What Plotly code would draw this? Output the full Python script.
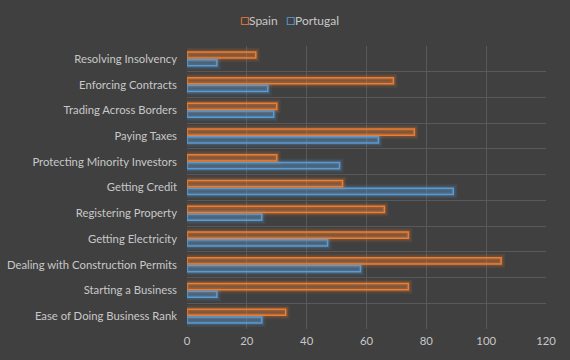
import plotly.graph_objects as go

categories = [
    "Ease of Doing Business Rank",
    "Starting a Business",
    "Dealing with Construction Permits",
    "Getting Electricity",
    "Registering Property",
    "Getting Credit",
    "Protecting Minority Investors",
    "Paying Taxes",
    "Trading Across Borders",
    "Enforcing Contracts",
    "Resolving Insolvency",
]
spain = [33, 74, 105, 74, 66, 52, 30, 76, 30, 69, 23]
portugal = [25, 10, 58, 47, 25, 89, 51, 64, 29, 27, 10]
x_ticks = [0, 20, 40, 60, 80, 100, 120]

FONT = "Lato, 'Open Sans', sans-serif"
TEXT = "#C8C8C8"
GRID = "#595959"
ORANGE = "#ED7D31"
BLUE = "#5B9BD5"
ORANGE_RGB = "237,125,49"
BLUE_RGB = "91,155,213"

fig = go.Figure()
series = [("Portugal", portugal, BLUE, BLUE_RGB, "p"), ("Spain", spain, ORANGE, ORANGE_RGB, "s")]
for name, vals, col, rgb, grp in series:
    # soft glow layers behind the bar
    for w, a in [(8, 0.10), (4.5, 0.18)]:
        fig.add_trace(go.Bar(
            name=name, y=categories, x=vals, orientation="h", offsetgroup=grp,
            showlegend=False, hoverinfo="skip",
            marker=dict(color="rgba(0,0,0,0)", line=dict(color=f"rgba({rgb},{a})", width=w)),
        ))
for name, vals, col, rgb, grp in series:
    fig.add_trace(go.Bar(
        name=name, y=categories, x=vals, orientation="h", offsetgroup=grp, showlegend=False,
        marker=dict(color=f"rgba({rgb},0.30)", line=dict(color=col, width=1.5)),
    ))

for label, col, px in [("Spain", ORANGE, 238), ("Portugal", BLUE, 284)]:
    fig.add_annotation(text=f'<span style="color:{col};font-size:15px">□</span>{label}',
                       xref="paper", yref="paper",
                       x=(px - 187) / 359, y=1 + (46 - 19) / 283,
                       xanchor="left", yanchor="middle", showarrow=False,
                       font=dict(family=FONT, size=12, color=TEXT))

fig.update_layout(
    width=570, height=360,
    paper_bgcolor="#404040", plot_bgcolor="#404040",
    margin=dict(l=187, r=24, t=46, b=31, autoexpand=False),
    barmode="group", bargap=0.4, bargroupgap=0.2,
    font=dict(family=FONT, size=11.3, color=TEXT),
    showlegend=False,
    xaxis=dict(range=[0, 120], tickvals=x_ticks, showgrid=True, gridcolor=GRID, gridwidth=1,
               zeroline=False, showline=False, ticks="", automargin=False,
               ticklabelstandoff=4, tickfont=dict(size=11.3, color=TEXT)),
    yaxis=dict(type="category", tickson="boundaries", showgrid=True, gridcolor=GRID,
               gridwidth=1, showline=False, ticks="", ticklen=0, automargin=False,
               ticklabelstandoff=9, tickfont=dict(size=11.3, color=TEXT)),
)

fig.write_html("out.html", config={"displayModeBar": False},
               post_script="document.body.style.margin='0';document.body.style.background='#404040';")
